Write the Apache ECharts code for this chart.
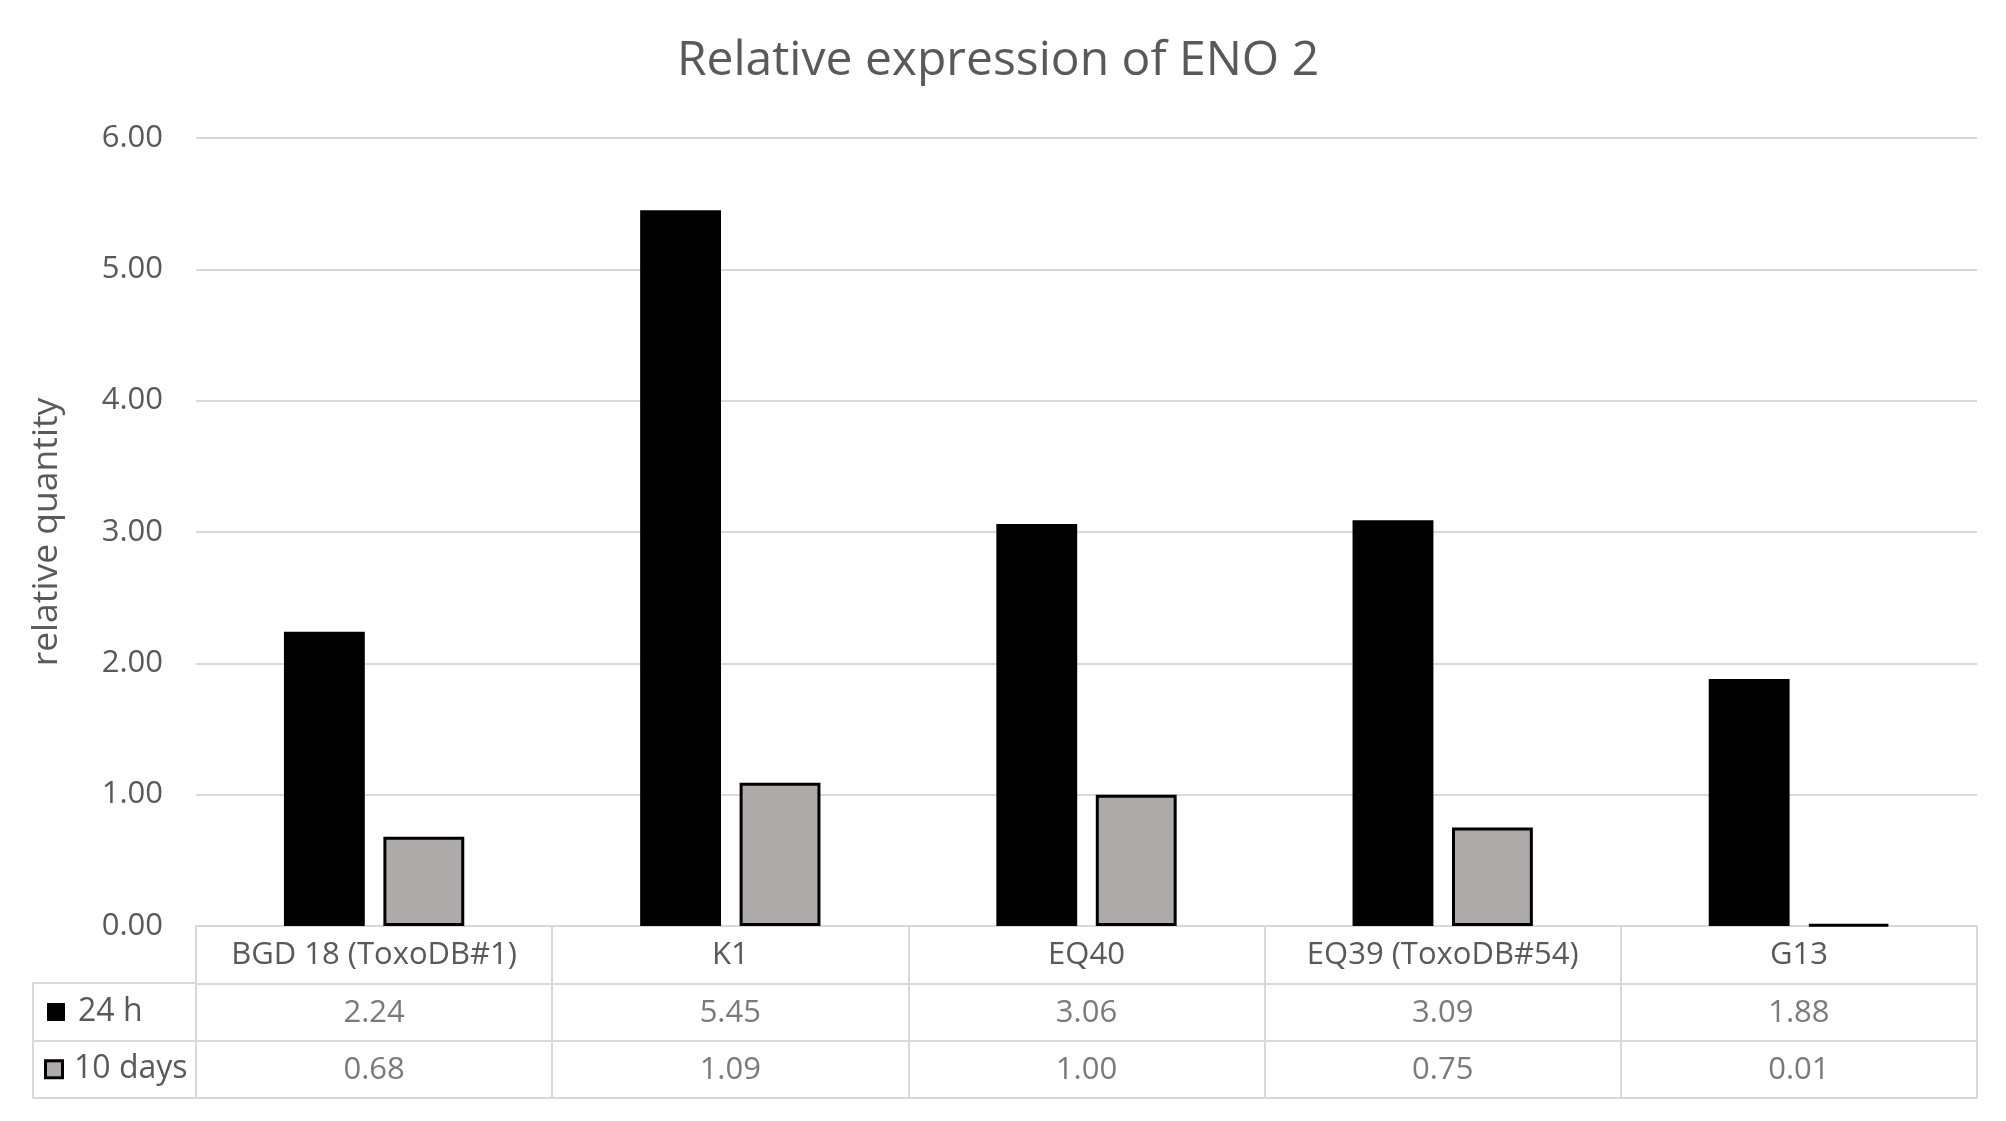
<!DOCTYPE html>
<html>
<head>
<meta charset="utf-8">
<script src="https://cdn.jsdelivr.net/npm/echarts@6/dist/echarts.min.js"></script>
<style>
html,body{margin:0;padding:0;background:#fff;}
#chart{width:2006px;height:1121px;}
</style>
</head>
<body>
<div id="chart"></div>
<script>
var categories = ['BGD 18 (ToxoDB#1)', 'K1', 'EQ40', 'EQ39 (ToxoDB#54)', 'G13'];
var seriesNames = ['24 h', '10 days'];
var values24h = [2.24, 5.45, 3.06, 3.09, 1.88];
var values10d = [0.68, 1.09, 1.00, 0.75, 0.01];
var yTicks = [0, 1, 2, 3, 4, 5, 6];

var FONT = '"Open Sans", "Noto Sans", sans-serif';
var TXT = '#595959';
var LINE = '#D9D9D9';
var GRAY = '#AEAAAA';

var tableRows = ['', seriesNames[0], seriesNames[1]];
var cellData = [];
values24h.forEach(function (v, i) { cellData.push([i, 1, v]); });
values10d.forEach(function (v, i) { cellData.push([i, 2, v]); });

var chart = echarts.init(document.getElementById('chart'));
chart.setOption({
  animation: false,
  backgroundColor: '#fff',
  textStyle: { fontFamily: FONT },
  title: {
    text: 'Relative expression of ENO 2',
    left: 993,
    textAlign: 'center',
    top: 32,
    textStyle: { color: TXT, fontSize: 48, fontWeight: 'normal', fontFamily: FONT }
  },
  grid: [
    { left: 196, right: 29, top: 138, bottom: 195, outerBoundsMode: 'none' },
    { left: 196, right: 29, top: 926, height: 172, outerBoundsMode: 'none' },
    { left: 33, width: 163, top: 983, height: 115, outerBoundsMode: 'none' }
  ],
  xAxis: [
    {
      type: 'category', gridIndex: 0, data: categories,
      axisLine: { show: true, lineStyle: { color: LINE, width: 2 } },
      axisTick: { show: false },
      axisLabel: { color: TXT, fontSize: 31, margin: 14, fontFamily: FONT, interval: 0 }
    },
    {
      type: 'category', gridIndex: 1, data: categories,
      axisLine: { show: true, lineStyle: { color: LINE, width: 2 } },
      axisTick: { show: false },
      axisLabel: { show: false },
      splitLine: { show: true, interval: 0, lineStyle: { color: LINE, width: 2 } }
    },
    {
      type: 'category', gridIndex: 2, data: [''],
      axisLine: { show: true, lineStyle: { color: LINE, width: 2 } },
      axisTick: { show: false },
      axisLabel: { show: false },
      splitLine: { show: true, interval: 0, lineStyle: { color: LINE, width: 2 } }
    }
  ],
  yAxis: [
    {
      type: 'value', gridIndex: 0, min: yTicks[0], max: yTicks[yTicks.length - 1], interval: 1,
      name: 'relative quantity', nameLocation: 'middle', nameGap: 131,
      nameTextStyle: { color: TXT, fontSize: 35.5, fontFamily: FONT },
      axisLine: { show: false },
      axisTick: { show: false },
      axisLabel: { color: TXT, fontSize: 31, margin: 33, fontFamily: FONT,
        formatter: function (v) { return v.toFixed(2); } },
      splitLine: { show: true, lineStyle: { color: LINE, width: 2 } }
    },
    {
      type: 'category', gridIndex: 1, data: tableRows, inverse: true,
      axisLine: { show: true, lineStyle: { color: LINE, width: 2 } },
      axisTick: { show: false },
      axisLabel: {
        show: true, align: 'left', margin: 149, color: TXT, fontSize: 32, fontFamily: FONT,
        formatter: function (v) {
          if (v === seriesNames[0]) return '{b|}{t|' + v + '}';
          if (v === seriesNames[1]) return '{g|}{t|' + v + '}';
          return '';
        },
        rich: {
          b: { width: 18, height: 18, backgroundColor: '#000' },
          g: { width: 14, height: 14, backgroundColor: GRAY, borderColor: '#000', borderWidth: 3 },
          t: { color: TXT, fontSize: 32, fontFamily: FONT, padding: [0, 0, 0, 13] }
        }
      },
      splitLine: { show: true, interval: 0, lineStyle: { color: LINE, width: 2 } }
    },
    {
      type: 'category', gridIndex: 2, data: [seriesNames[0], seriesNames[1]], inverse: true,
      axisLine: { show: true, lineStyle: { color: LINE, width: 2 } },
      axisTick: { show: false },
      axisLabel: { show: false },
      splitLine: { show: true, interval: 0, lineStyle: { color: LINE, width: 2 } }
    }
  ],
  series: [
    {
      name: seriesNames[0], type: 'bar', xAxisIndex: 0, yAxisIndex: 0,
      data: values24h, barWidth: '22.7%', barGap: '23%',
      itemStyle: { color: '#000' }
    },
    {
      name: seriesNames[1], type: 'bar', xAxisIndex: 0, yAxisIndex: 0,
      data: values10d, barWidth: '22.7%', barGap: '23%',
      itemStyle: { color: GRAY, borderColor: '#000', borderWidth: 3 }
    },
    {
      type: 'scatter', xAxisIndex: 1, yAxisIndex: 1, symbolSize: 0, silent: true,
      data: cellData,
      label: {
        show: true, position: 'inside', color: TXT, fontSize: 31, fontFamily: FONT,
        offset: [0, 1],
        formatter: function (p) { return p.value[2].toFixed(2); }
      }
    }
  ]
});
</script>
</body>
</html>
